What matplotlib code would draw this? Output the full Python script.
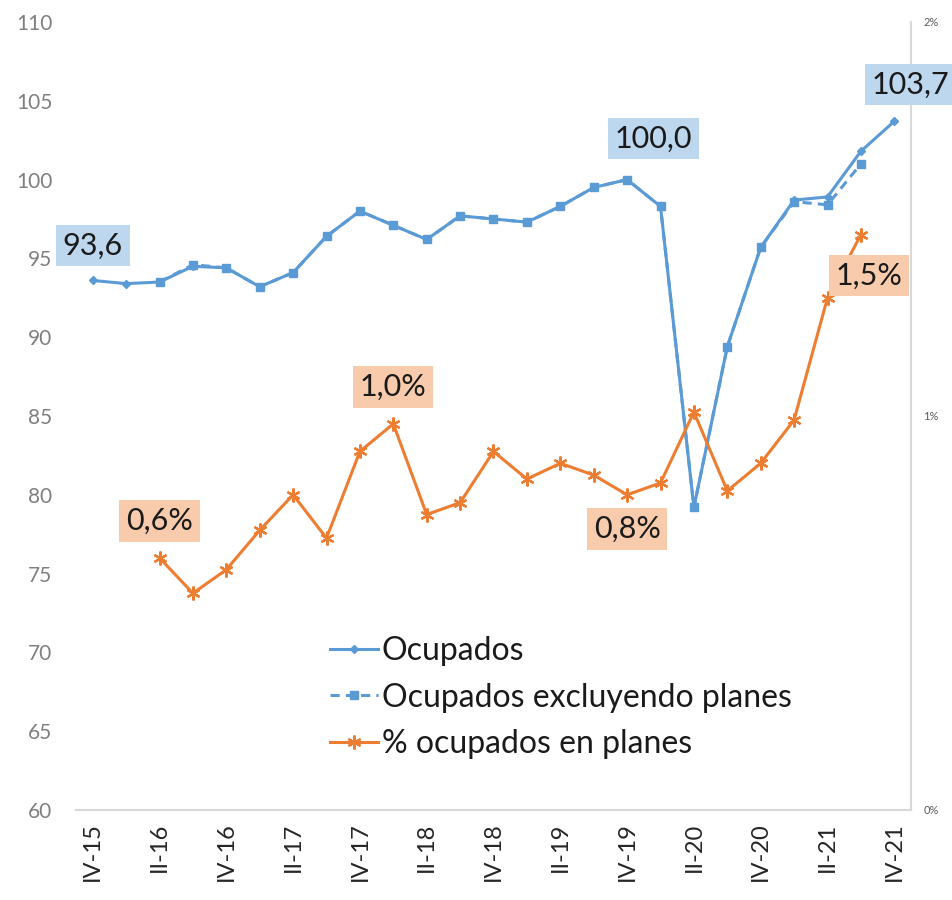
import numpy as np
import matplotlib.pyplot as plt
from matplotlib.lines import Line2D

plt.rcParams['font.family'] = ['Lato', 'DejaVu Sans']

quarters = ['IV-15', 'I-16', 'II-16', 'III-16', 'IV-16', 'I-17', 'II-17', 'III-17',
            'IV-17', 'I-18', 'II-18', 'III-18', 'IV-18', 'I-19', 'II-19', 'III-19',
            'IV-19', 'I-20', 'II-20', 'III-20', 'IV-20', 'I-21', 'II-21', 'III-21', 'IV-21']
nan = np.nan
ocupados = [93.6, 93.4, 93.5, 94.5, 94.4, 93.2, 94.1, 96.4, 98.0, 97.1, 96.2, 97.7,
            97.5, 97.3, 98.3, 99.5, 100.0, 98.3, 79.2, 89.4, 95.7, 98.7, 98.9, 101.8, 103.7]
ocupados_excl = [nan, nan, 93.5, 94.6, 94.4, 93.2, 94.1, 96.4, 98.0, 97.1, 96.2, 97.7,
                 97.5, 97.3, 98.3, 99.5, 100.0, 98.3, 79.2, 89.4, 95.7, 98.6, 98.4, 101.0, nan]
pct_planes = [nan, nan, 0.64, 0.55, 0.61, 0.71, 0.80, 0.69, 0.91, 0.98, 0.75, 0.78,
              0.91, 0.84, 0.88, 0.85, 0.80, 0.83, 1.01, 0.81, 0.88, 0.99, 1.30, 1.46, nan]

# which points get a data label and where the box goes (pixel offsets)
blue_labels = {0: (0, 35), 16: (26, 41), 24: (16, 37)}
orange_labels = {2: (0, 37), 9: (0, 37), 16: (0, -34), 23: (8, -41)}

blue = '#5b9bd5'
orange = '#ed7d31'
x = np.arange(len(quarters))

fig = plt.figure(figsize=(9.52, 9.0), dpi=100)
ax = fig.add_axes([76/952, 0.1, (911-76)/952, (810-22)/900])
ax2 = ax.twinx()

ax.plot(x, ocupados, color=blue, lw=2.2, marker='D', ms=4, zorder=3)
ax.plot(x, ocupados_excl, color=blue, lw=2.2, ls=(0, (3, 2)), marker='s', ms=6, zorder=4)
ax2.plot(x, pct_planes, color=orange, lw=2.2, marker=(6, 2, 0), ms=10, mew=1.6)

ax.set_xlim(-0.5, len(quarters) - 0.5)
ax.set_ylim(60, 110)
ax.set_yticks(np.arange(60, 111, 5))
ax2.set_ylim(0, 2)
ax2.set_yticks([0, 1, 2])
ax2.set_yticklabels(['0%', '1%', '2%'])

ax.set_xticks(x[::2])
ax.set_xticklabels(quarters[::2], rotation=90, fontsize=17, color='#262626')
ax.tick_params(axis='x', length=0, pad=9)
ax.tick_params(axis='y', length=0, pad=17, labelsize=15, labelcolor='#7f7f7f')
ax2.tick_params(axis='y', length=0, pad=9, labelsize=8, labelcolor='#595959')

for a in (ax, ax2):
    a.spines['top'].set_visible(False)
    a.spines['left'].set_visible(False)
    a.spines['right'].set_visible(False)
    a.spines['bottom'].set_color('#d9d9d9')
    a.spines['bottom'].set_linewidth(1.5)
ax2.spines['right'].set_visible(True)
ax2.spines['right'].set_color('#d9d9d9')
ax2.spines['right'].set_linewidth(1.5)

for i, off in blue_labels.items():
    ax2.annotate(f'{ocupados[i]:.1f}'.replace('.', ','), xy=(x[i], ocupados[i]),
                 xycoords=ax.transData, xytext=off, textcoords='offset pixels',
                 ha='center', va='center', fontsize=22, color='#1a1a1a',
                 bbox=dict(boxstyle='square,pad=0.22', fc='#bdd7ee', ec='none'),
                 annotation_clip=False, zorder=10)
for i, off in orange_labels.items():
    ax2.annotate(f'{pct_planes[i]:.1f}%'.replace('.', ','), xy=(x[i], pct_planes[i]),
                 xytext=off, textcoords='offset pixels',
                 ha='center', va='center', fontsize=22, color='#1a1a1a',
                 bbox=dict(boxstyle='square,pad=0.22', fc='#f8cbad', ec='none'),
                 annotation_clip=False, zorder=10)

handles = [
    Line2D([], [], color=blue, lw=2.2, marker='D', ms=4),
    Line2D([], [], color=blue, lw=2.2, ls=(0, (3, 2)), marker='s', ms=6),
    Line2D([], [], color=orange, lw=2.2, marker=(6, 2, 0), ms=10, mew=1.6),
]
ax2.legend(handles, ['Ocupados', 'Ocupados excluyendo planes', '% ocupados en planes'],
           loc='upper left', bbox_to_anchor=(330/952, 1 - 636/900),
           bbox_transform=fig.transFigure, frameon=False, fontsize=23,
           handlelength=1.5, handletextpad=0.12, labelspacing=0.52, borderpad=0,
           borderaxespad=0, labelcolor='#1a1a1a')

fig.savefig('out.png', dpi=100)
